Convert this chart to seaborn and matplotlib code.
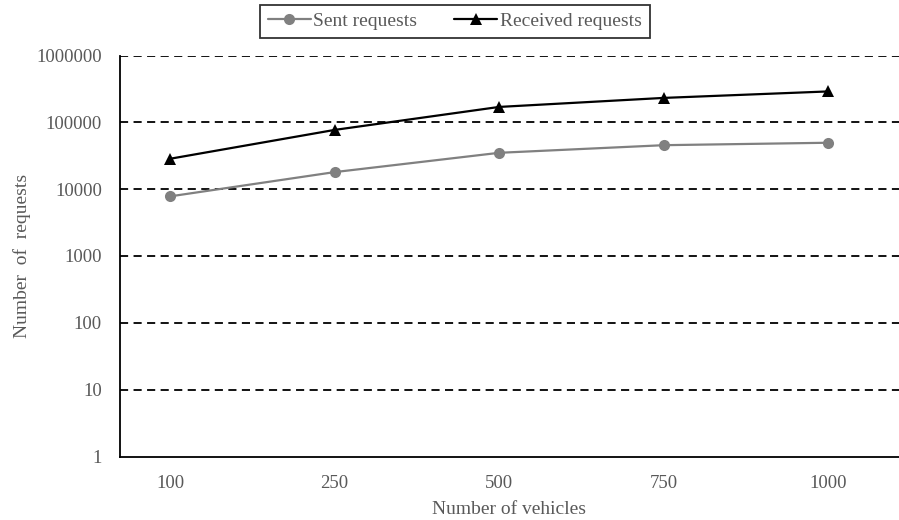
import pandas as pd
import seaborn as sns
import matplotlib.pyplot as plt
from matplotlib.ticker import FixedLocator, FixedFormatter

# values
vehicles = ["100", "250", "500", "750", "1000"]
sent = [7800, 18000, 35000, 45500, 49500]
received = [28500, 77000, 170000, 232000, 290000]
series_names = ["Sent requests", "Received requests"]


def main():
    sns.set_theme(style="white")
    plt.rcParams["font.family"] = ["Liberation Serif", "DejaVu Serif"]

    data = pd.DataFrame({
        "vehicles": vehicles * 2,
        "requests": sent + received,
        "series": [series_names[0]] * len(vehicles) + [series_names[1]] * len(vehicles),
    })

    fig = plt.figure(figsize=(8.99, 5.2), dpi=100)
    ax = fig.add_axes([120 / 899, (520 - 456.5) / 520, 1 - 120 / 899, (456.5 - 55.5) / 520])

    sns.lineplot(data=data, x="vehicles", y="requests", hue="series", style="series",
                 palette=["#808080", "#000000"], markers=["o", "^"], dashes=False,
                 markersize=8, markeredgewidth=0, linewidth=1.6, sort=False, ax=ax,
                 legend=False)

    ax.set_yscale("log")
    ax.set_ylim(1, 1000000)
    ax.set_xlim(-0.304, 4.43)

    yticks = [1, 10, 100, 1000, 10000, 100000, 1000000]
    ax.yaxis.set_major_locator(FixedLocator(yticks))
    ax.yaxis.set_major_formatter(FixedFormatter([str(v) for v in yticks]))
    ax.yaxis.set_minor_locator(FixedLocator([]))

    # dashed horizontal grid
    for v in yticks[1:]:
        ax.axhline(v, color="black", linewidth=1.3, dashes=(4.5, 3), zorder=1)

    ax.tick_params(axis="y", length=0, pad=13, labelsize=13.5, labelcolor="#595959")
    ax.tick_params(axis="x", length=0, pad=13, labelsize=13.5, labelcolor="#595959")

    for side in ["top", "right"]:
        ax.spines[side].set_visible(False)
    for side in ["left", "bottom"]:
        ax.spines[side].set_color("black")
        ax.spines[side].set_linewidth(1.3)

    ax.set_xlabel("Number of vehicles", fontsize=14, color="#595959", labelpad=7)
    ax.set_ylabel("Number  of  requests", fontsize=14, color="#595959", labelpad=4)

    # legend on top, framed
    handles = [
        plt.Line2D([], [], color="#808080", marker="o", markersize=8, markeredgewidth=0, linewidth=1.6),
        plt.Line2D([], [], color="#000000", marker="^", markersize=8, markeredgewidth=0, linewidth=1.6),
    ]
    leg = fig.legend(handles, series_names, loc="upper center", bbox_to_anchor=(0.506, 1.01),
                     ncol=2, fontsize=14, frameon=True, fancybox=False, handlelength=2.2,
                     handletextpad=0.15, columnspacing=1.9, borderpad=0.4)
    leg.get_frame().set_edgecolor("black")
    leg.get_frame().set_linewidth(1.3)
    for t in leg.get_texts():
        t.set_color("#595959")

    plt.savefig("out.png", dpi=100)
    plt.close()


if __name__ == '__main__':
    main()
